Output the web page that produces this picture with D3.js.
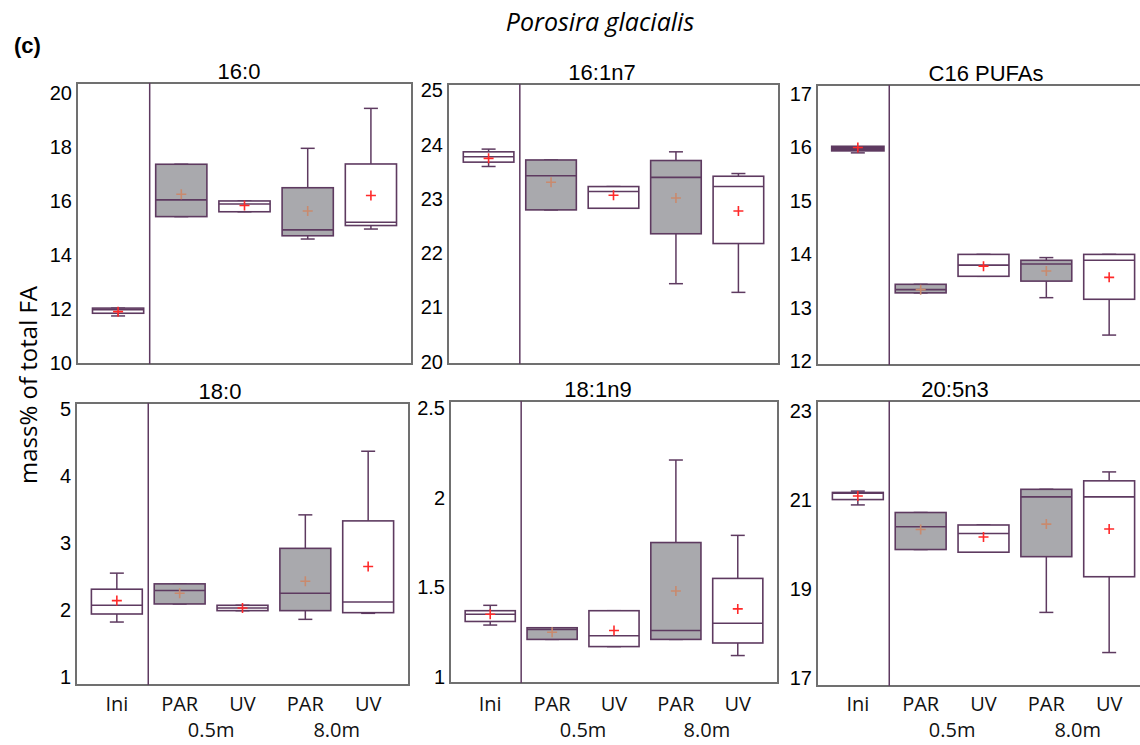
<!DOCTYPE html>
<html>
<head>
  <script src='https://d3js.org/d3.v7.min.js'></script>
  <style>
    body { margin: 0; background: #fff; }
  </style>
</head>
<body>
  <svg id="canvas" width="1140" height="745"></svg>
  <script>
    // treatments, left to right
    const groups = ['Ini', 'PAR', 'UV', 'PAR', 'UV'];
    const depths = ['0.5m', '8.0m'];
    const shaded = [false, true, false, true, false];

    const panelTitles = ['16:0', '16:1n7', 'C16 PUFAs', '18:0', '18:1n9', '20:5n3'];
    const yTicks = [
      [10, 12, 14, 16, 18, 20],
      [20, 21, 22, 23, 24, 25],
      [12, 13, 14, 15, 16, 17],
      [1, 2, 3, 4, 5],
      [1, 1.5, 2, 2.5],
      [17, 19, 21, 23]
    ];
    const yDomains = [
      [9.96, 20.37], [19.96, 25.12], [11.93, 17.17],
      [0.88, 5.09], [0.967, 2.539], [16.83, 23.22]
    ];

    // [min, q1, median, q3, max, mean] per treatment
    const fa160 = [
      [11.74, 11.84, 11.97, 12.03, 12.03, 11.9],
      [15.42, 15.42, 16.04, 17.36, 17.36, 16.25],
      [15.6, 15.6, 15.89, 16.0, 16.0, 15.83],
      [14.59, 14.71, 14.93, 16.49, 17.95, 15.63],
      [14.96, 15.09, 15.21, 17.37, 19.43, 16.2]
    ];
    const fa161n7 = [
      [23.6, 23.68, 23.78, 23.87, 23.92, 23.75],
      [22.8, 22.8, 23.43, 23.72, 23.72, 23.31],
      [22.83, 22.83, 23.14, 23.23, 23.23, 23.07],
      [21.44, 22.36, 23.4, 23.71, 23.87, 23.02],
      [21.28, 22.18, 23.23, 23.42, 23.47, 22.78]
    ];
    const c16pufa = [
      [15.9, 15.95, 15.98, 16.01, 16.01, 16.0],
      [13.28, 13.28, 13.34, 13.44, 13.44, 13.34],
      [13.59, 13.59, 13.8, 14.0, 14.0, 13.78],
      [13.19, 13.5, 13.82, 13.89, 13.94, 13.69],
      [12.49, 13.16, 13.89, 14.0, 14.0, 13.57]
    ];
    const fa180 = [
      [1.82, 1.94, 2.07, 2.31, 2.55, 2.14],
      [2.09, 2.09, 2.29, 2.39, 2.39, 2.25],
      [1.99, 1.99, 2.03, 2.07, 2.07, 2.03],
      [1.86, 1.99, 2.25, 2.92, 3.42, 2.43],
      [1.95, 1.96, 2.12, 3.33, 4.37, 2.65]
    ];
    const fa181n9 = [
      [1.29, 1.31, 1.35, 1.37, 1.4, 1.35],
      [1.21, 1.21, 1.265, 1.275, 1.275, 1.25],
      [1.17, 1.17, 1.23, 1.37, 1.37, 1.26],
      [1.21, 1.21, 1.26, 1.75, 2.21, 1.48],
      [1.12, 1.19, 1.3, 1.55, 1.79, 1.38]
    ];
    const fa205n3 = [
      [20.89, 21.01, 21.15, 21.17, 21.2, 21.09],
      [19.89, 19.89, 20.4, 20.72, 20.72, 20.34],
      [19.83, 19.83, 20.25, 20.44, 20.44, 20.17],
      [18.48, 19.73, 21.07, 21.24, 21.24, 20.46],
      [17.58, 19.28, 21.07, 21.43, 21.63, 20.35]
    ];
    const panelData = [fa160, fa161n7, c16pufa, fa180, fa181n9, fa205n3];

    /** layout of the six frames (left, top, width, height) and title centres */
    const frames = [
      { x: 77, y: 83, w: 335, h: 281, tx: 239 },
      { x: 448, y: 84, w: 331, h: 280, tx: 602 },
      { x: 817, y: 85, w: 333, h: 280, tx: 986 },
      { x: 76, y: 403, w: 333, h: 282, tx: 220 },
      { x: 450, y: 401, w: 328, h: 282, tx: 598 },
      { x: 817, y: 401, w: 333, h: 285, tx: 955 }
    ];
    const labelRowY = [711, 737];

    const boxStroke = '#5e3a60';
    const frameStroke = '#707070';
    const greyFill = '#a9a9ad';
    const tickFont = '"Liberation Sans", Arial, sans-serif';
    const labelFont = '"Open Sans", "Noto Sans", sans-serif';

    const svg = d3.select('svg#canvas');

    // figure title and panel letter
    svg.append('text')
      .attr('x', 600).attr('y', 31)
      .attr('text-anchor', 'middle')
      .style('font-family', labelFont)
      .style('font-style', 'italic')
      .style('font-size', '25px')
      .text('Porosira glacialis');

    svg.append('text')
      .attr('x', 14).attr('y', 53)
      .style('font-family', tickFont)
      .style('font-weight', 'bold')
      .style('font-size', '22px')
      .text('(c)');

    svg.append('text')
      .attr('transform', 'translate(37,385)rotate(-90)')
      .attr('text-anchor', 'middle')
      .style('font-family', labelFont)
      .style('font-size', '24px')
      .text('mass% of total FA');

    panelData.forEach((stats, p) => {
      const f = frames[p];
      const g = svg.append('g').attr('transform', `translate(${f.x},${f.y})`);

      const xScale = d3.scaleLinear().domain([-0.65, 4.65]).range([0, f.w]);
      const yScale = d3.scaleLinear().domain(yDomains[p]).range([f.h, 0]);
      const unit = xScale(1) - xScale(0);
      const boxW = unit * 0.81;
      const capW = 14;

      // frame
      g.append('rect')
        .attr('width', f.w).attr('height', f.h)
        .attr('fill', 'none')
        .attr('stroke', frameStroke)
        .attr('stroke-width', 2);

      // divider between initial and treatments
      g.append('line')
        .attr('x1', xScale(0.5)).attr('x2', xScale(0.5))
        .attr('y1', 0).attr('y2', f.h)
        .attr('stroke', boxStroke)
        .attr('stroke-width', 1.5);

      // y axis labels
      const yAxis = d3.axisLeft(yScale)
        .tickValues(yTicks[p])
        .tickSize(0)
        .tickPadding(5)
        .tickFormat(d => String(d));
      const ax = g.append('g').call(yAxis);
      ax.select('.domain').remove();
      ax.selectAll('text')
        .style('font-family', tickFont)
        .style('font-size', '20px')
        .attr('fill', '#000');

      // title
      svg.append('text')
        .attr('x', f.tx)
        .attr('y', f.y - 4)
        .attr('text-anchor', 'middle')
        .style('font-family', tickFont)
        .style('font-size', '22px')
        .attr('fill', '#000')
        .text(panelTitles[p]);

      // boxes
      stats.forEach((s, i) => {
        const [mn, q1, med, q3, mx, mean] = s;
        const cx = xScale(i);
        const bg = g.append('g');

        // whiskers
        [[mn, q1], [q3, mx]].forEach(([a, b]) => {
          if (b - a > 0.0001) {
            bg.append('line')
              .attr('x1', cx).attr('x2', cx)
              .attr('y1', yScale(a)).attr('y2', yScale(b))
              .attr('stroke', boxStroke).attr('stroke-width', 1.5);
          }
        });
        [mn, mx].forEach(v => {
          bg.append('line')
            .attr('x1', cx - capW / 2).attr('x2', cx + capW / 2)
            .attr('y1', yScale(v)).attr('y2', yScale(v))
            .attr('stroke', boxStroke).attr('stroke-width', 1.5);
        });

        bg.append('rect')
          .attr('x', cx - boxW / 2)
          .attr('y', yScale(q3))
          .attr('width', boxW)
          .attr('height', Math.max(yScale(q1) - yScale(q3), 1))
          .attr('fill', shaded[i] ? greyFill : '#fff')
          .attr('stroke', boxStroke)
          .attr('stroke-width', i === 0 && p === 2 ? 3 : 1.6);

        bg.append('line')
          .attr('x1', cx - boxW / 2).attr('x2', cx + boxW / 2)
          .attr('y1', yScale(med)).attr('y2', yScale(med))
          .attr('stroke', boxStroke).attr('stroke-width', 1.6);

        // mean marker
        const my = yScale(mean);
        const plusColor = shaded[i] ? '#c98a6e' : '#ff2a2a';
        bg.append('path')
          .attr('d', `M${cx - 5},${my}H${cx + 5}M${cx},${my - 5}V${my + 5}`)
          .attr('stroke', plusColor)
          .attr('stroke-width', 1.6);

        // category labels on the lower row only
        if (p >= 3) {
          g.append('text')
            .attr('x', cx)
            .attr('y', labelRowY[0] - f.y)
            .attr('text-anchor', 'middle')
            .style('font-family', labelFont)
            .style('font-size', '20px')
            .attr('fill', '#111')
            .text(groups[i]);
        }
      });

      if (p >= 3) {
        depths.forEach((d, k) => {
          g.append('text')
            .attr('x', xScale(1.5 + k * 2))
            .attr('y', labelRowY[1] - f.y)
            .attr('text-anchor', 'middle')
            .style('font-family', labelFont)
            .style('font-size', '20px')
            .attr('fill', '#111')
            .text(d);
        });
      }
    });
  </script>
</body>
</html>
